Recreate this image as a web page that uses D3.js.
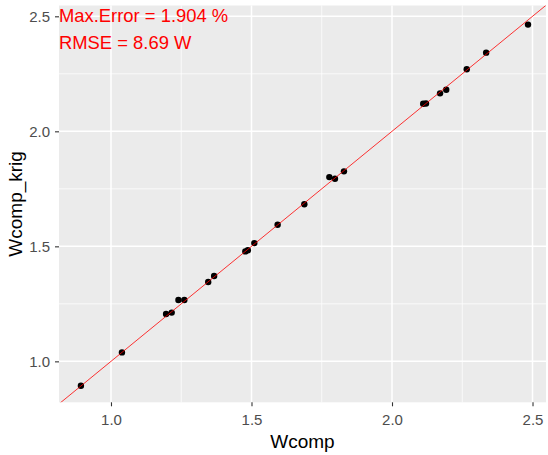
<!DOCTYPE html>
<html>
<head>
<meta charset="utf-8">
<script src="https://cdn.jsdelivr.net/npm/d3@7"></script>
<style>
  html, body { margin: 0; padding: 0; background: #ffffff; }
  svg { display: block; font-family: "Liberation Sans", Arial, sans-serif; }
</style>
</head>
<body>
<svg id="chart" width="548" height="455"></svg>
<script>
// Measured compressor power vs. kriging prediction
const wcomp = [0.893, 1.039, 1.196, 1.216, 1.240, 1.261, 1.346, 1.367, 1.478, 1.487,
               1.510, 1.593, 1.688, 1.777, 1.797, 1.829, 2.111, 2.121, 2.171, 2.193,
               2.266, 2.335, 2.484];
const wcompKrig = [0.894, 1.039, 1.206, 1.212, 1.267, 1.267, 1.345, 1.371, 1.478, 1.483,
                   1.514, 1.594, 1.683, 1.801, 1.794, 1.826, 2.120, 2.121, 2.165, 2.181,
                   2.270, 2.342, 2.464];
const xTicks = [1.0, 1.5, 2.0, 2.5];
const yTicks = [1.0, 1.5, 2.0, 2.5];
const xMinor = [1.25, 1.75, 2.25];
const yMinor = [1.25, 1.75, 2.25];
const xDomain = [0.815, 2.548];
const yDomain = [0.822, 2.547];
const notes = ["Max.Error = 1.904 %", "RMSE = 8.69 W"];

const svg = d3.select("#chart");
const panel = { left: 59, right: 546, top: 5.5, bottom: 402.3 };

const x = d3.scaleLinear().domain(xDomain).range([panel.left, panel.right]);
const y = d3.scaleLinear().domain(yDomain).range([panel.bottom, panel.top]);

// panel background
svg.append("rect")
  .attr("x", panel.left).attr("y", panel.top)
  .attr("width", panel.right - panel.left)
  .attr("height", panel.bottom - panel.top)
  .attr("fill", "#EBEBEB");

const grid = svg.append("g");
// minor grid
grid.selectAll(".vminor").data(xMinor).join("line")
  .attr("x1", d => x(d)).attr("x2", d => x(d))
  .attr("y1", panel.top).attr("y2", panel.bottom)
  .attr("stroke", "#ffffff").attr("stroke-width", 0.75);
grid.selectAll(".hminor").data(yMinor).join("line")
  .attr("y1", d => y(d)).attr("y2", d => y(d))
  .attr("x1", panel.left).attr("x2", panel.right)
  .attr("stroke", "#ffffff").attr("stroke-width", 0.75);
// major grid
grid.selectAll(".vmajor").data(xTicks).join("line")
  .attr("x1", d => x(d)).attr("x2", d => x(d))
  .attr("y1", panel.top).attr("y2", panel.bottom)
  .attr("stroke", "#ffffff").attr("stroke-width", 1.5);
grid.selectAll(".hmajor").data(yTicks).join("line")
  .attr("y1", d => y(d)).attr("y2", d => y(d))
  .attr("x1", panel.left).attr("x2", panel.right)
  .attr("stroke", "#ffffff").attr("stroke-width", 1.5);

// clip for panel content
svg.append("clipPath").attr("id", "panelClip")
  .append("rect")
  .attr("x", panel.left).attr("y", panel.top)
  .attr("width", panel.right - panel.left)
  .attr("height", panel.bottom - panel.top);

const plot = svg.append("g").attr("clip-path", "url(#panelClip)");

// points
plot.selectAll("circle").data(wcomp).join("circle")
  .attr("cx", d => x(d))
  .attr("cy", (d, i) => y(wcompKrig[i]))
  .attr("r", 3.2)
  .attr("fill", "#000000");

// identity line y = x
const lo = Math.min(xDomain[0], yDomain[0]);
const hi = Math.max(xDomain[1], yDomain[1]);
plot.append("line")
  .attr("x1", x(lo)).attr("y1", y(lo))
  .attr("x2", x(hi)).attr("y2", y(hi))
  .attr("stroke", "#FF0000").attr("stroke-width", 0.8);

// x axis
const xAxis = d3.axisBottom(x).tickValues(xTicks).tickFormat(d3.format(".1f"))
  .tickSize(4).tickPadding(8);
const gx = svg.append("g").attr("transform", `translate(0,${panel.bottom})`).call(xAxis);
gx.select(".domain").remove();
gx.selectAll(".tick line").attr("stroke", "#333333").attr("stroke-width", 1.1);
gx.selectAll(".tick text")
  .attr("fill", "#4D4D4D").attr("font-size", 15)
  .attr("font-family", "Liberation Sans, Arial, sans-serif");

// y axis
const yAxis = d3.axisLeft(y).tickValues(yTicks).tickFormat(d3.format(".1f"))
  .tickSize(4).tickPadding(5);
const gy = svg.append("g").attr("transform", `translate(${panel.left},0)`).call(yAxis);
gy.select(".domain").remove();
gy.selectAll(".tick line").attr("stroke", "#333333").attr("stroke-width", 1.1);
gy.selectAll(".tick text")
  .attr("fill", "#4D4D4D").attr("font-size", 15)
  .attr("font-family", "Liberation Sans, Arial, sans-serif");

// axis titles
svg.append("text")
  .attr("x", (panel.left + panel.right) / 2).attr("y", 448)
  .attr("text-anchor", "middle")
  .attr("font-size", 19).attr("fill", "#000000")
  .text("Wcomp");

svg.append("text")
  .attr("transform", `translate(22,${(panel.top + panel.bottom) / 2}) rotate(-90)`)
  .attr("text-anchor", "middle")
  .attr("font-size", 19).attr("fill", "#000000")
  .text("Wcomp_krig");

// error annotations
svg.selectAll(".note").data(notes).join("text")
  .attr("class", "note")
  .attr("x", panel.left)
  .attr("y", (d, i) => 22 + i * 27)
  .attr("font-size", 18.4)
  .attr("fill", "#FF0000")
  .text(d => d);
</script>
</body>
</html>
